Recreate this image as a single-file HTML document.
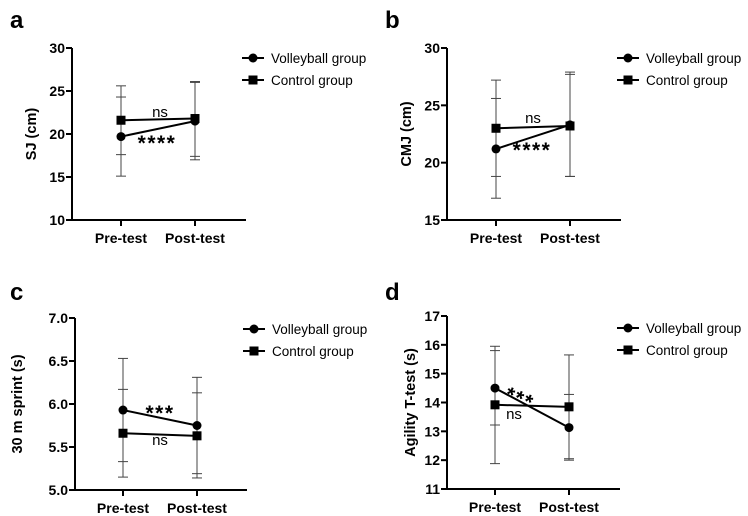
<!DOCTYPE html>
<html><head><meta charset="utf-8"><style>
html,body{margin:0;padding:0;background:#fff;}
svg{display:block;font-family:"Liberation Sans",Arial,sans-serif;}
</style></head><body>
<svg id="fig" width="748" height="516" viewBox="0 0 748 516"></svg>
<script>
const categories = ["Pre-test","Post-test"];
const seriesNames = ["Volleyball group","Control group"];
// panel a: SJ
const aVolley = [19.7, 21.5], aVolleyLo = [15.1, 17.0], aVolleyHi = [24.3, 26.0];
const aControl = [21.6, 21.8], aControlLo = [17.6, 17.4], aControlHi = [25.6, 26.1];
const aTicks = [10, 15, 20, 25, 30];
// panel b: CMJ
const bVolley = [21.2, 23.3], bVolleyLo = [16.9, 18.8], bVolleyHi = [25.6, 27.9];
const bControl = [23.0, 23.2], bControlLo = [18.8, 18.8], bControlHi = [27.2, 27.7];
const bTicks = [15, 20, 25, 30];
// panel c: 30 m sprint
const cVolley = [5.93, 5.75], cVolleyLo = [5.33, 5.19], cVolleyHi = [6.53, 6.31];
const cControl = [5.66, 5.63], cControlLo = [5.15, 5.14], cControlHi = [6.17, 6.13];
const cTicks = [5.0, 5.5, 6.0, 6.5, 7.0];
// panel d: Agility T-test
const dVolley = [14.5, 13.13], dVolleyLo = [13.22, 12.0], dVolleyHi = [15.95, 14.28];
const dControl = [13.92, 13.85], dControlLo = [11.88, 12.05], dControlHi = [15.8, 15.65];
const dTicks = [11, 12, 13, 14, 15, 16, 17];

const NS = "http://www.w3.org/2000/svg";
const svg = document.getElementById("fig");
function mk(tag, attrs, parent, text){
  const e = document.createElementNS(NS, tag);
  for (const k in attrs) e.setAttribute(k, attrs[k]);
  if (text !== undefined) e.textContent = text;
  (parent || svg).appendChild(e);
  return e;
}
const panels = [
 {id:"a", ax:72, top:48, bot:220, px:[121,195], end:246, letter:[10,28], title:"SJ (cm)", tx:36, ticks:aTicks, dec:0,
  v:aVolley, vl:aVolleyLo, vh:aVolleyHi, c:aControl, cl:aControlLo, ch:aControlHi, leg:[242,58],
  ann:[["ns",160,117,0,15,"normal"],["****",157,150,0,21,"bold"]]},
 {id:"b", ax:447, top:48, bot:220, px:[496,570], end:621, letter:[385,28], title:"CMJ (cm)", tx:411, ticks:bTicks, dec:0,
  v:bVolley, vl:bVolleyLo, vh:bVolleyHi, c:bControl, cl:bControlLo, ch:bControlHi, leg:[617,58],
  ann:[["ns",533,123,0,15,"normal"],["****",532,157,0,21,"bold"]]},
 {id:"c", ax:75, top:318, bot:490, px:[123,197], end:247, letter:[10,300], title:"30 m sprint (s)", tx:22, ticks:cTicks, dec:1,
  v:cVolley, vl:cVolleyLo, vh:cVolleyHi, c:cControl, cl:cControlLo, ch:cControlHi, leg:[243,329],
  ann:[["***",160,420,0,21,"bold"],["ns",160,445,0,15,"normal"]]},
 {id:"d", ax:447, top:316, bot:489, px:[495,569], end:620, letter:[385,300], title:"Agility T-test (s)", tx:415, ticks:dTicks, dec:0,
  v:dVolley, vl:dVolleyLo, vh:dVolleyHi, c:dControl, cl:dControlLo, ch:dControlHi, leg:[617,328],
  ann:[["***",517,405,22,21,"bold"],["ns",514,419,0,15,"normal"]]}
];
panels.forEach(p=>{
  const g = mk("g",{});
  
  
  const lo = p.ticks[0], hi = p.ticks[p.ticks.length-1];
  const y = v => p.bot - (v-lo)/(hi-lo)*(p.bot-p.top);
  const x = i => p.px[i];
  const L = mk("text",{x:p.letter[0],y:p.letter[1],"font-size":24,"font-weight":"bold"},g,p.id);
  
  
  const ya = mk("line",{x1:p.ax,y1:p.top,x2:p.ax,y2:p.bot,stroke:"#000","stroke-width":2},g);
  
  
  const xa = mk("line",{x1:p.ax-1,y1:p.bot,x2:p.end,y2:p.bot,stroke:"#000","stroke-width":2},g);
  
  
  p.ticks.forEach(t=>{
    mk("line",{x1:p.ax-6,y1:y(t),x2:p.ax,y2:y(t),stroke:"#000","stroke-width":2},g);
    const tl = mk("text",{x:p.ax-7,y:y(t)+5,"font-size":14,"font-weight":"bold","text-anchor":"end"},g,t.toFixed(p.dec));
    
    
  });
  categories.forEach((c,i)=>{
    mk("line",{x1:x(i),y1:p.bot,x2:x(i),y2:p.bot+6,stroke:"#000","stroke-width":2},g);
    const cl = mk("text",{x:x(i),y:p.bot+23,"font-size":14,"font-weight":"bold","text-anchor":"middle"},g,c);
    
    
  });
  const cy = (p.top+p.bot)/2;
  const yt = mk("text",{x:p.tx,y:cy,"font-size":14.5,"font-weight":"bold","text-anchor":"middle",transform:`rotate(-90 ${p.tx} ${cy})`},g,p.title);
  
  
  [[p.vl,p.vh],[p.cl,p.ch]].forEach(([l,h],s)=>{
    for(let i=0;i<2;i++){
      const eb = mk("g",{stroke:"#444","stroke-width":1},g);
      
      
      mk("line",{x1:x(i),y1:y(l[i]),x2:x(i),y2:y(h[i])},eb);
      mk("line",{x1:x(i)-5,y1:y(l[i]),x2:x(i)+5,y2:y(l[i])},eb);
      mk("line",{x1:x(i)-5,y1:y(h[i]),x2:x(i)+5,y2:y(h[i])},eb);
    }
  });
  [p.v,p.c].forEach((vals,s)=>{
    const ln = mk("line",{x1:x(0),y1:y(vals[0]),x2:x(1),y2:y(vals[1]),stroke:"#000","stroke-width":2},g);
    
    
    vals.forEach((v,i)=>{
      let m;
      if(s===0) m = mk("circle",{cx:x(i),cy:y(v),r:4.5,fill:"#000"},g);
      else m = mk("rect",{x:x(i)-4.5,y:y(v)-4.5,width:9,height:9,fill:"#000"},g);
      
      
    });
  });
  p.ann.forEach(a=>{
    const at = mk("text",{x:a[1],y:a[2],"font-size":a[4],"font-weight":a[5],"text-anchor":"middle","letter-spacing":a[5]==="bold"?"1.5":"0",transform:`rotate(${a[3]} ${a[1]} ${a[2]})`},g,a[0]);
    
    
  });
  seriesNames.forEach((n,s)=>{
    const lg = mk("g",{},g);
    
    
    const ly = p.leg[1] + s*22;
    mk("line",{x1:p.leg[0],y1:ly,x2:p.leg[0]+22,y2:ly,stroke:"#000","stroke-width":2},lg);
    if(s===0) mk("circle",{cx:p.leg[0]+11,cy:ly,r:4.5,fill:"#000"},lg);
    else mk("rect",{x:p.leg[0]+6.5,y:ly-4.5,width:9,height:9,fill:"#000"},lg);
    mk("text",{x:p.leg[0]+29,y:ly+5,"font-size":13.5},lg,n);
  });
});
</script>
</body></html>
